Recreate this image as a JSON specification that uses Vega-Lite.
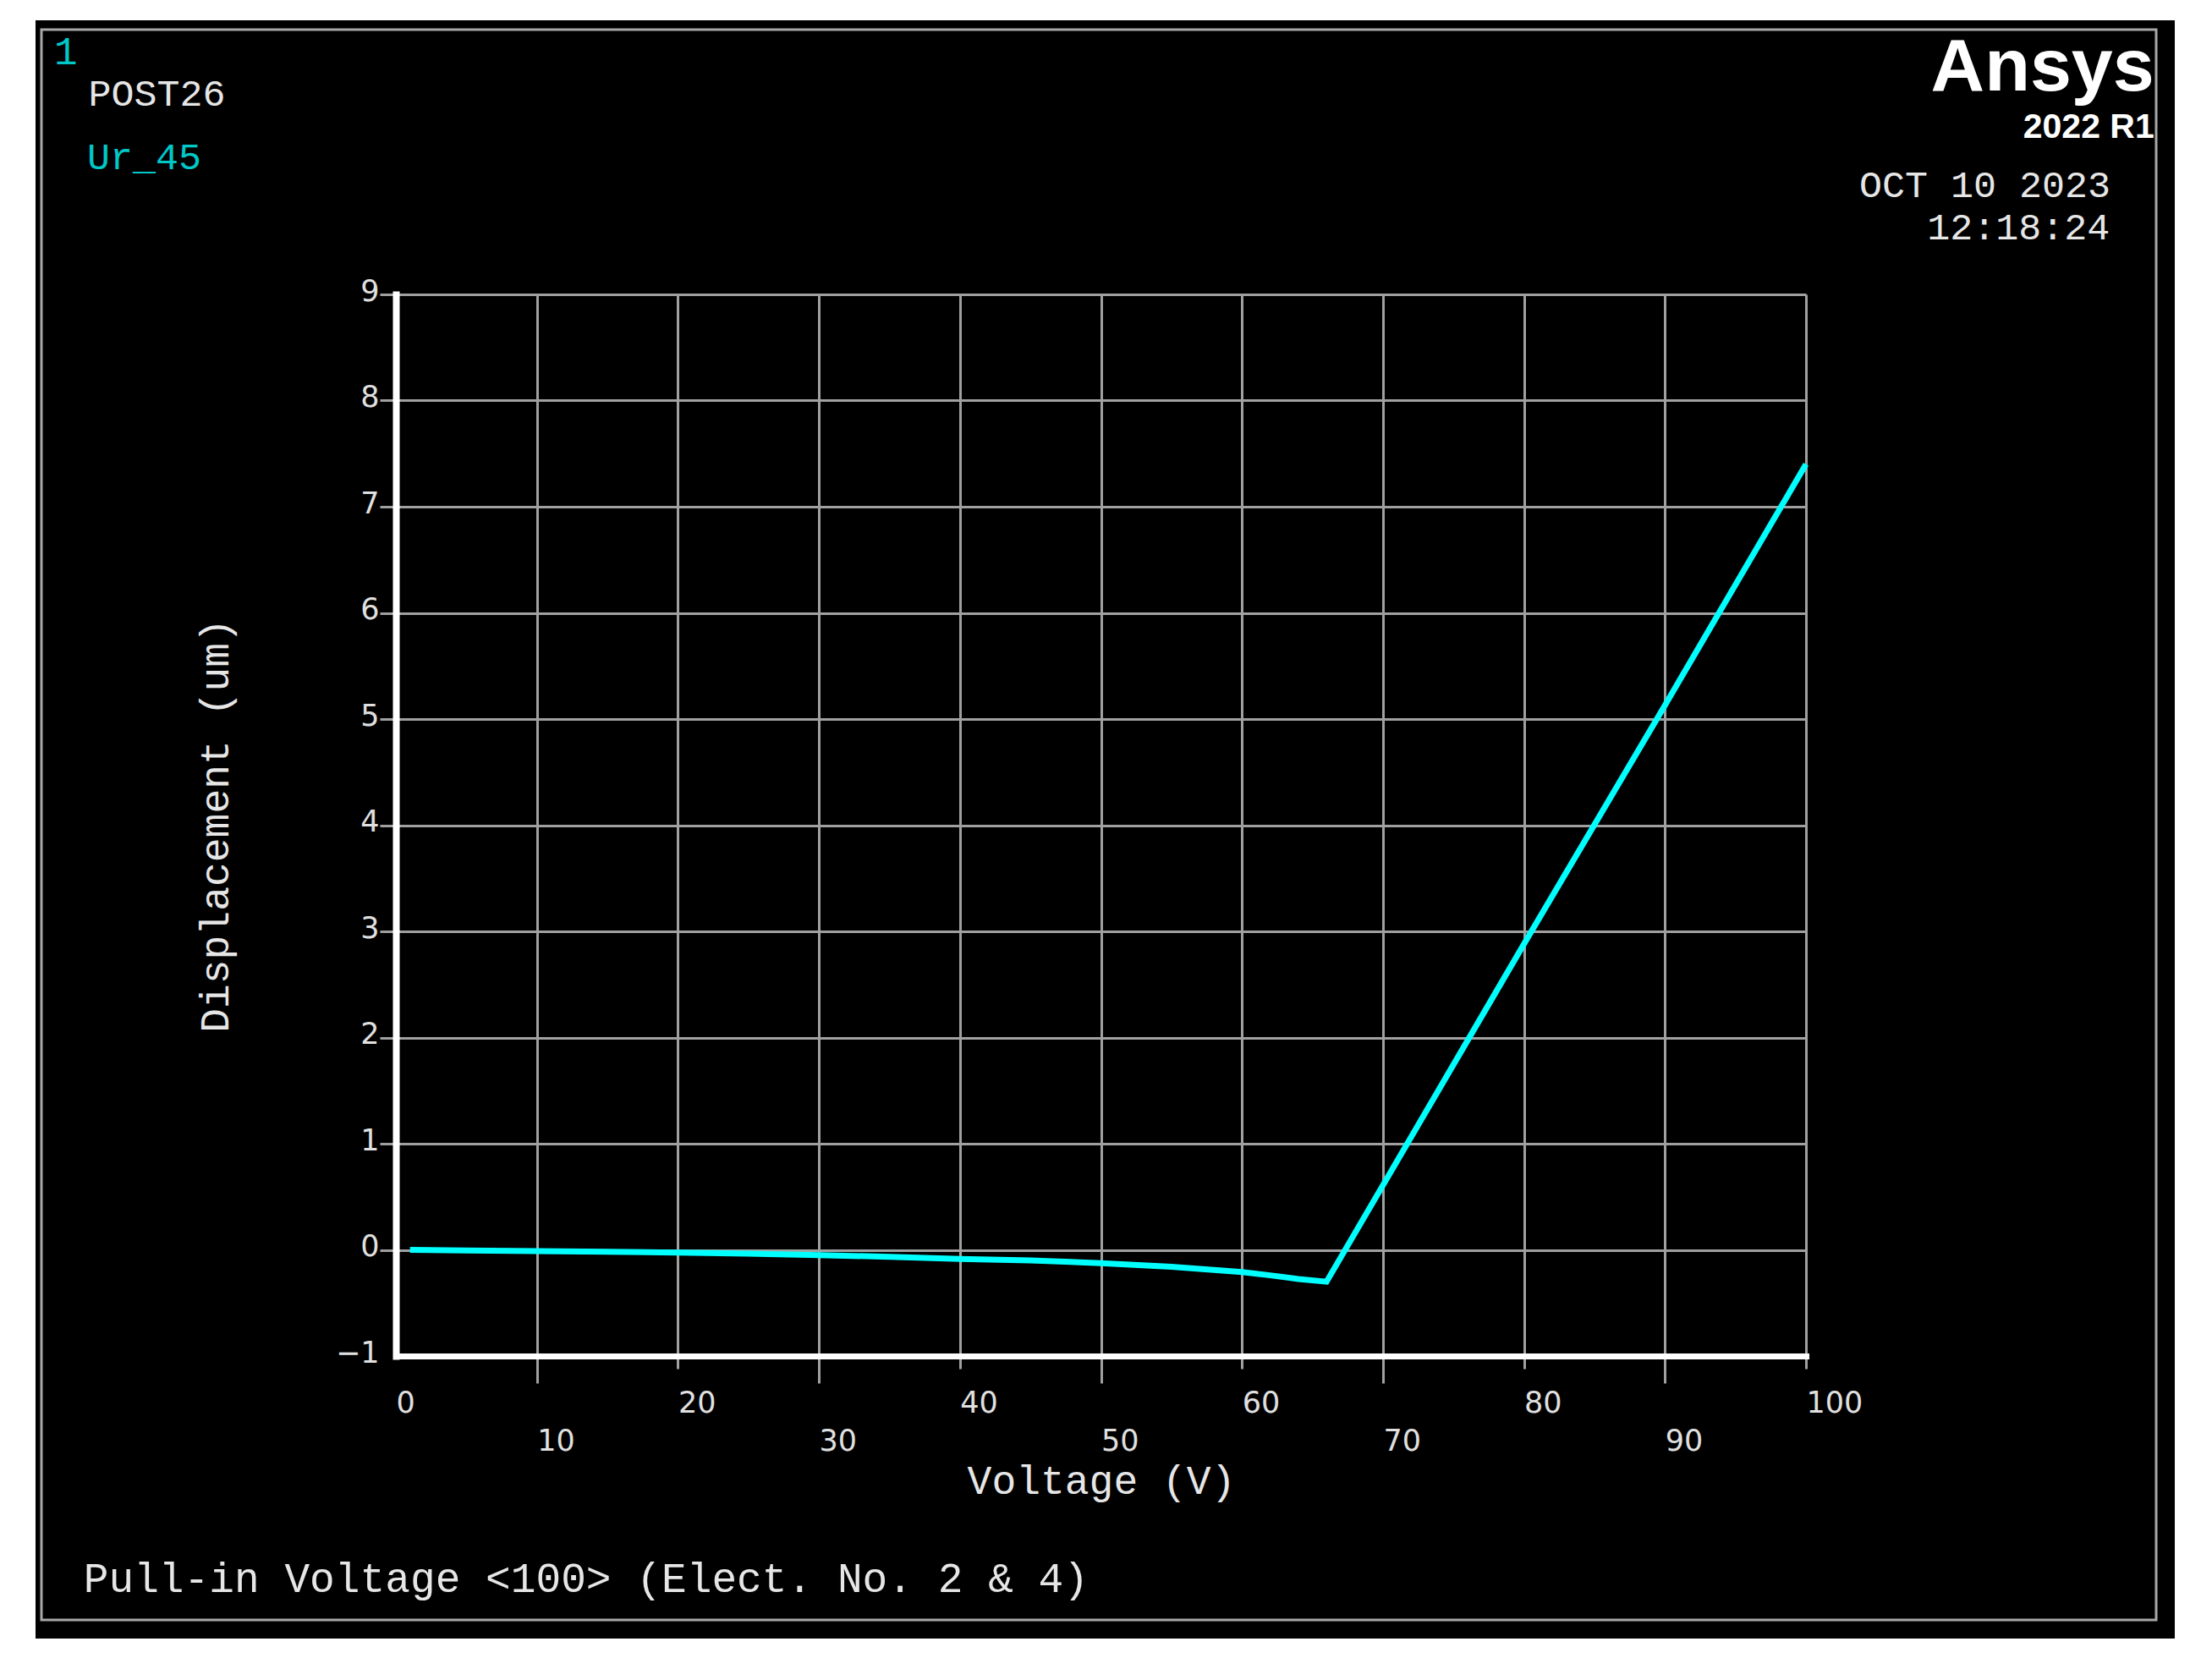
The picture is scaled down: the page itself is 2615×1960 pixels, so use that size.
{
  "$schema": "https://vega.github.io/schema/vega-lite/v6.json",
  "width": 1667,
  "height": 1255,
  "autosize": {"type": "none"},
  "padding": {"left": 468, "top": 348, "right": 480, "bottom": 357},
  "background": "black",
  "config": {"view": {"stroke": null}},
  "layer": [
    {
      "data": {
        "values": [
          {"voltage": 1, "disp": 0},
          {"voltage": 5, "disp": -0.005},
          {"voltage": 10, "disp": -0.012},
          {"voltage": 15, "disp": -0.018},
          {"voltage": 20, "disp": -0.025},
          {"voltage": 25, "disp": -0.035},
          {"voltage": 30, "disp": -0.05},
          {"voltage": 35, "disp": -0.065},
          {"voltage": 40, "disp": -0.085},
          {"voltage": 45, "disp": -0.1},
          {"voltage": 50, "disp": -0.125},
          {"voltage": 55, "disp": -0.16},
          {"voltage": 58, "disp": -0.19},
          {"voltage": 60, "disp": -0.21},
          {"voltage": 62, "disp": -0.24},
          {"voltage": 64, "disp": -0.275},
          {"voltage": 66, "disp": -0.3},
          {"voltage": 80, "disp": 2.88},
          {"voltage": 90, "disp": 5.13},
          {"voltage": 100, "disp": 7.4}
        ]
      },
      "mark": {"type": "line", "color": "#00ffff", "strokeWidth": 7},
      "encoding": {
        "x": {
          "field": "voltage",
          "type": "quantitative",
          "scale": {"domain": [0, 100], "nice": false, "zero": false},
          "axis": {
            "values": [0, 10, 20, 30, 40, 50, 60, 70, 80, 90, 100],
            "format": "d",
            "title": "Voltage (V)",
            "grid": true,
            "gridColor": {"condition": {"test": "datum.value === 0", "value": "transparent"}, "value": "#a0a0a0"},
            "gridWidth": 3,
            "domainColor": "white",
            "domainWidth": 7,
            "domainCap": "square",
            "tickColor": {"condition": {"test": "datum.value === 0", "value": "transparent"}, "value": "#a0a0a0"},
            "tickWidth": 3,
            "tickSize": {"condition": {"test": "datum.value % 20 === 0", "value": 15}, "value": 32},
            "labelPadding": {"condition": {"test": "datum.value % 20 === 0", "value": 23}, "value": 51},
            "labelAlign": "left",
            "labelBaseline": "top",
            "labelFont": "DejaVu Sans",
            "labelFontSize": 35,
            "labelColor": "#e0e0e0",
            "labelFlush": false,
            "labelOverlap": false,
            "titleFont": "Liberation Mono",
            "titleFontSize": 48,
            "titleFontWeight": "normal",
            "titleColor": "#e6e6e6",
            "titlePadding": 6
          }
        },
        "y": {
          "field": "disp",
          "type": "quantitative",
          "scale": {"domain": [-1, 9], "nice": false, "zero": false},
          "axis": {
            "values": [-1, 0, 1, 2, 3, 4, 5, 6, 7, 8, 9],
            "format": "d",
            "title": "Displacement (um)",
            "grid": true,
            "gridColor": {"condition": {"test": "datum.value === -1", "value": "transparent"}, "value": "#a0a0a0"},
            "gridWidth": 3,
            "domainColor": "white",
            "domainWidth": 8,
            "domainCap": "square",
            "tickColor": {"condition": {"test": "datum.value === -1", "value": "transparent"}, "value": "#a0a0a0"},
            "tickWidth": 3,
            "tickSize": 19,
            "labelPadding": 1,
            "labelOffset": -4,
            "labelFont": "DejaVu Sans",
            "labelFontSize": 35,
            "labelColor": "#e0e0e0",
            "labelFlush": false,
            "labelOverlap": false,
            "titleFont": "Liberation Mono",
            "titleFontSize": 48,
            "titleFontWeight": "normal",
            "titleColor": "#e6e6e6",
            "titlePadding": 117
          }
        }
      }
    },
    {
      "data": {"values": [{}]},
      "mark": {"type": "rect", "color": "white"},
      "encoding": {
        "x": {"datum": -40, "type": "quantitative"},
        "x2": {"datum": -25.555},
        "y": {"datum": -12, "type": "quantitative"},
        "y2": {"datum": 16}
      }
    },
    {
      "data": {"values": [{}]},
      "mark": {"type": "rect", "color": "white"},
      "encoding": {
        "x": {"datum": 126.155, "type": "quantitative"},
        "x2": {"datum": 140},
        "y": {"datum": -12, "type": "quantitative"},
        "y2": {"datum": 16}
      }
    },
    {
      "data": {"values": [{}]},
      "mark": {"type": "rect", "color": "white"},
      "encoding": {
        "x": {"datum": -40, "type": "quantitative"},
        "x2": {"datum": 140},
        "y": {"datum": 11.582, "type": "quantitative"},
        "y2": {"datum": 16}
      }
    },
    {
      "data": {"values": [{}]},
      "mark": {"type": "rect", "color": "white"},
      "encoding": {
        "x": {"datum": -40, "type": "quantitative"},
        "x2": {"datum": 140},
        "y": {"datum": -12, "type": "quantitative"},
        "y2": {"datum": -3.661}
      }
    },
    {
      "data": {"values": [{}]},
      "mark": {"type": "rect", "fill": "transparent", "stroke": "#a8a8a8", "strokeWidth": 3},
      "encoding": {
        "x": {"datum": -25.135, "type": "quantitative"},
        "x2": {"datum": 124.835},
        "y": {"datum": -3.486, "type": "quantitative"},
        "y2": {"datum": 11.494}
      }
    },
    {
      "data": {"values": [{}]},
      "mark": {"type": "text", "text": "1", "font": "Liberation Mono", "fontSize": 46, "color": "#00c8c8", "align": "left", "baseline": "alphabetic"},
      "encoding": {
        "x": {"datum": -24.24, "type": "quantitative"},
        "y": {"datum": 11.167, "type": "quantitative"}
      }
    },
    {
      "data": {"values": [{}]},
      "mark": {"type": "text", "text": "POST26", "font": "Liberation Mono", "fontSize": 45, "color": "#e6e6e6", "align": "left", "baseline": "alphabetic"},
      "encoding": {
        "x": {"datum": -21.8, "type": "quantitative"},
        "y": {"datum": 10.777, "type": "quantitative"}
      }
    },
    {
      "data": {"values": [{}]},
      "mark": {"type": "text", "text": "Ur_45", "font": "Liberation Mono", "fontSize": 45, "color": "#00c8c8", "align": "left", "baseline": "alphabetic"},
      "encoding": {
        "x": {"datum": -21.9, "type": "quantitative"},
        "y": {"datum": 10.179, "type": "quantitative"}
      }
    },
    {
      "data": {"values": [{}]},
      "mark": {"type": "text", "text": "Ansys", "font": "Liberation Sans", "fontWeight": "bold", "fontSize": 88, "color": "white", "align": "right", "baseline": "alphabetic"},
      "encoding": {
        "x": {"datum": 124.7, "type": "quantitative"},
        "y": {"datum": 10.92, "type": "quantitative"}
      }
    },
    {
      "data": {"values": [{}]},
      "mark": {"type": "text", "text": "2022 R1", "font": "Liberation Sans", "fontWeight": "bold", "fontSize": 41, "color": "white", "align": "right", "baseline": "alphabetic"},
      "encoding": {
        "x": {"datum": 124.7, "type": "quantitative"},
        "y": {"datum": 10.474, "type": "quantitative"}
      }
    },
    {
      "data": {"values": [{}]},
      "mark": {"type": "text", "text": "OCT 10 2023", "font": "Liberation Mono", "fontSize": 45, "color": "#e6e6e6", "align": "right", "baseline": "alphabetic"},
      "encoding": {
        "x": {"datum": 121.6, "type": "quantitative"},
        "y": {"datum": 9.916, "type": "quantitative"}
      }
    },
    {
      "data": {"values": [{}]},
      "mark": {"type": "text", "text": "12:18:24", "font": "Liberation Mono", "fontSize": 45, "color": "#e6e6e6", "align": "right", "baseline": "alphabetic"},
      "encoding": {
        "x": {"datum": 121.55, "type": "quantitative"},
        "y": {"datum": 9.518, "type": "quantitative"}
      }
    },
    {
      "data": {"values": [{}]},
      "mark": {"type": "text", "text": "Pull-in Voltage <100> (Elect. No. 2 & 4)", "font": "Liberation Mono", "fontSize": 49.5, "color": "#e6e6e6", "align": "left", "baseline": "alphabetic"},
      "encoding": {
        "x": {"datum": -22.15, "type": "quantitative"},
        "y": {"datum": -3.223, "type": "quantitative"}
      }
    }
  ]
}
